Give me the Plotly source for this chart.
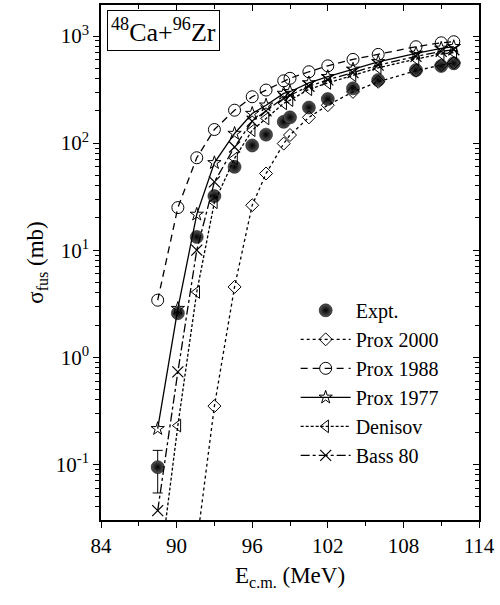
"""Fusion cross sections for 48Ca+96Zr: experiment vs proximity-type potentials."""
import plotly.graph_objects as go

# energies (MeV) shared by data and models
e_cm = [88.5, 90.1, 91.6, 93.0, 94.6, 96.0, 97.1, 98.5, 99.0,
        100.5, 102.0, 104.0, 106.0, 109.0, 111.0, 112.0]

expt = [0.094, 2.58, 13.3, 32, 60, 95, 120, 158, 174,
        215, 258, 325, 388, 481, 525, 556]
expt_err_up = [0.041] + [0] * 15
expt_err_dn = [0.040] + [0] * 15

prox2000_e = [91.6, 93.0, 94.6, 96.0, 97.1, 98.5, 99.0,
              100.5, 102.0, 104.0, 106.0, 109.0, 111.0, 112.0]
prox2000 = [0.018, 0.35, 4.54, 26.3, 52, 99, 119,
            174, 226, 301, 374, 474, 536, 562]

prox1988 = [3.41, 25, 73, 134, 203, 271, 313, 382, 403,
            464, 527, 605, 674, 795, 865, 885]

prox1977 = [0.215, 2.85, 21.6, 65.5, 123, 189, 226, 291, 302,
            365, 417, 489, 575, 689, 768, 795]

denisov = [0.0075, 0.23, 4.07, 28, 72, 132, 170, 235, 252,
           318, 365, 430, 505, 610, 680, 700]

bass80 = [0.037, 0.73, 10, 43.5, 92, 160, 200, 265, 280,
          340, 390, 455, 535, 645, 720, 745]

x_ticks = [84, 90, 96, 102, 108, 114]
y_ticks = [0.1, 1, 10, 100, 1000]
y_tick_text = ['10<sup>-1</sup>', '10<sup>0</sup>', '10<sup>1</sup>',
               '10<sup>2</sup>', '10<sup>3</sup>']

FONT = "Liberation Serif"

fig = go.Figure()

fig.add_trace(go.Scatter(
    x=e_cm, y=expt, mode='markers', name='Expt.',
    marker=dict(symbol='circle', size=13, color='#555555',
                gradient=dict(type='radial', color='black'),
                line=dict(width=0.5, color='black')),
    error_y=dict(type='data', symmetric=False, array=expt_err_up,
                 arrayminus=expt_err_dn, color='black', thickness=1, width=5)
))

fig.add_trace(go.Scatter(
    x=prox2000_e, y=prox2000, mode='lines+markers', name='Prox 2000',
    line=dict(color='black', width=1.3, dash='dot'),
    marker=dict(symbol='diamond-open', size=10, color='black', line=dict(width=1))
))

fig.add_trace(go.Scatter(
    x=e_cm, y=prox1988, mode='lines+markers', name='Prox 1988',
    line=dict(color='black', width=1.3, dash='7px,5px'),
    marker=dict(symbol='circle-open', size=12, color='black', line=dict(width=1))
))

fig.add_trace(go.Scatter(
    x=e_cm, y=prox1977, mode='lines+markers', name='Prox 1977',
    line=dict(color='black', width=1.3),
    marker=dict(symbol='star-open', size=10, color='black', line=dict(width=1))
))

fig.add_trace(go.Scatter(
    x=e_cm, y=denisov, mode='lines+markers', name='Denisov',
    line=dict(color='black', width=1.3, dash='3px,2px'),
    marker=dict(symbol='triangle-left-open', size=11, color='black', line=dict(width=1))
))

fig.add_trace(go.Scatter(
    x=e_cm, y=bass80, mode='lines+markers', name='Bass 80',
    line=dict(color='black', width=1.3, dash='dashdot'),
    marker=dict(symbol='x-thin-open', size=11, color='black', line=dict(width=1.2))
))

# dummy trace so the mirrored top/right axes get drawn
fig.add_trace(go.Scatter(x=[None], y=[None], xaxis='x2', yaxis='y2',
                         showlegend=False, hoverinfo='skip'))

axis_common = dict(showline=True, linecolor='black', linewidth=1.5,
                   showgrid=False, zeroline=False, tickcolor='black',
                   tickwidth=1.2,
                   tickfont=dict(family=FONT, size=21, color='black'))

fig.update_layout(
    width=500, height=605,
    margin=dict(l=101, r=21, t=5, b=85),
    paper_bgcolor='white', plot_bgcolor='white',
    font=dict(family=FONT, size=21, color='black'),
    xaxis=dict(range=[84, 114], tickvals=x_ticks, ticks='outside', ticklen=6,
               minor=dict(dtick=3, tick0=84, ticks='outside', ticklen=4,
                          tickcolor='black'),
               title=dict(text='E<sub>c.m.</sub> (MeV)',
                          font=dict(family=FONT, size=23, color='black'),
                          standoff=10),
               **axis_common),
    yaxis=dict(type='log', range=[-1.52, 3.29], tickvals=y_ticks,
               ticktext=y_tick_text, ticks='outside', ticklen=6,
               minor=dict(dtick='D1', ticks='outside', ticklen=4,
                          tickcolor='black'),
               title=dict(text='σ<sub>fus</sub> (mb)',
                          font=dict(family=FONT, size=23, color='black'),
                          standoff=6),
               **axis_common),
    xaxis2=dict(overlaying='x', side='top', range=[84, 114], tickvals=x_ticks,
                ticks='inside', ticklen=6, showticklabels=False,
                minor=dict(dtick=3, tick0=84, ticks='inside', ticklen=4,
                           tickcolor='black'),
                **axis_common),
    yaxis2=dict(overlaying='y', side='right', type='log', range=[-1.52, 3.29],
                tickvals=y_ticks, ticks='inside', ticklen=6, showticklabels=False,
                minor=dict(dtick='D1', ticks='inside', ticklen=4,
                           tickcolor='black'),
                **axis_common),
    legend=dict(x=0.515, y=0.445, xanchor='left', yanchor='top',
                bgcolor='rgba(0,0,0,0)',
                font=dict(family=FONT, size=20, color='black'),
                itemwidth=50, tracegroupgap=0),
    showlegend=True,
)

fig.add_annotation(
    xref='paper', yref='paper', x=0.017, y=0.99, xanchor='left', yanchor='top',
    text='<sup>48</sup>Ca+<sup>96</sup>Zr', showarrow=False,
    font=dict(family=FONT, size=26, color='black'),
    bordercolor='black', borderwidth=1, borderpad=3, bgcolor='white'
)

# page margin would otherwise push the figure off the 500x605 window
fig.write_html("out.html", config={'displayModeBar': False},
               post_script="document.body.style.margin='0';")
